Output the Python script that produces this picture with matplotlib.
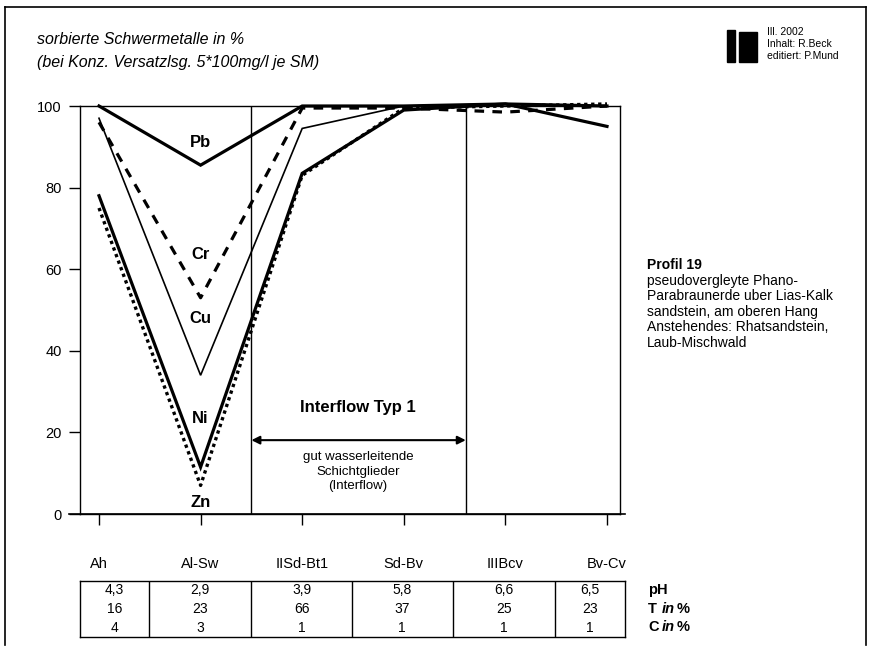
import numpy as np
import matplotlib
matplotlib.use('Agg')
import matplotlib.pyplot as plt
from matplotlib.patches import Rectangle

plt.rcParams['font.family'] = ['Liberation Sans', 'DejaVu Sans']

# horizons and sorbed heavy metals (%)
horizons = ['Ah', 'Al-Sw', 'IISd-Bt1', 'Sd-Bv', 'IIIBcv', 'Bv-Cv']
pb = [100, 85.5, 100, 100, 100.5, 95]
cr = [96, 53, 99.5, 99.5, 98.5, 100]
cu = [97, 34, 94.5, 100, 100.5, 100]
ni = [78, 11.5, 83.5, 99, 100.5, 100]
zn = [75, 7, 83, 99.5, 100, 100.5]

# table below the chart
ph = ['4,3', '2,9', '3,9', '5,8', '6,6', '6,5']
t_pct = ['16', '23', '66', '37', '25', '23']
c_pct = ['4', '3', '1', '1', '1', '1']

W, H = 870, 658


def fx(x):
    return x / W


def fy(y):
    return 1 - y / H


fig = plt.figure(figsize=(W / 100, H / 100), dpi=100)

# main chart, pixel box 80..620 x 106..514
ax = fig.add_axes([fx(80), fy(514), (620 - 80) / W, (514 - 106) / H])
xs = np.arange(len(horizons))
ax.set_xlim(-0.187, 5.128)
ax.set_ylim(0, 100)

ax.plot(xs, pb, color='black', lw=2.3, clip_on=False, solid_joinstyle='miter')
ax.plot(xs, cr, color='black', lw=2.3, ls=(0, (3, 2.6)), clip_on=False)
ax.plot(xs, cu, color='black', lw=1.2, clip_on=False, solid_joinstyle='miter')
ax.plot(xs, ni, color='black', lw=2.3, clip_on=False, solid_joinstyle='miter')
ax.plot(xs, zn, color='black', lw=2.4, ls=(0, (1, 1.1)), clip_on=False)

for name, yv in [('Pb', 91), ('Cr', 63.7), ('Cu', 47.8), ('Ni', 23.5), ('Zn', 2.9)]:
    ax.text(1, yv, name, ha='center', va='center', fontsize=12, fontweight='bold')

# boundaries of the interflow zone
ax.axvline(1.5, color='black', lw=1.0)
ax.axvline(3.61, color='black', lw=1.0)
ax.annotate('', xy=(1.5, 18.1), xytext=(3.61, 18.1),
            arrowprops=dict(arrowstyle='<|-|>', color='black', lw=1.5,
                            mutation_scale=12, shrinkA=0, shrinkB=0))
ax.text(2.55, 26, 'Interflow Typ 1', ha='center', va='center',
        fontsize=12, fontweight='bold')
ax.text(2.55, 10.4, 'gut wasserleitende\nSchichtglieder\n(Interflow)',
        ha='center', va='center', fontsize=9.5, linespacing=1.3)

ax.plot([-0.3, 5.177], [0, 0], color='black', lw=1.2, clip_on=False)
for s in ax.spines.values():
    s.set_linewidth(1.0)
ax.set_yticks([0, 20, 40, 60, 80, 100])
ax.set_xticks(xs)
ax.set_xticklabels(horizons)
ax.tick_params(axis='y', direction='out', length=8, width=1.0, labelsize=10.5, pad=5)
ax.tick_params(axis='x', direction='out', length=8, width=1.0, labelsize=10.5, pad=23)

# table of soil properties
tax = fig.add_axes([fx(80), fy(637), (625 - 80) / W, (637 - 581) / H])
tax.set_xlim(-0.187, 5.177)
tax.set_ylim(0, 3)
edges = [-0.187, 0.49, 1.5, 2.49, 3.48, 4.49, 5.177]
for e in edges[1:-1]:
    tax.axvline(e, color='black', lw=1.0)
for i in range(len(horizons)):
    cx = (edges[i] + edges[i + 1]) / 2
    for row, vals in zip([2.5, 1.5, 0.5], [ph, t_pct, c_pct]):
        tax.text(cx, row, vals[i], ha='center', va='center', fontsize=10)
tax.set_xticks([])
tax.set_yticks([])
for s in tax.spines.values():
    s.set_linewidth(1.0)

fig.text(fx(648), fy(590), 'pH', ha='left', va='center', fontsize=10.5, fontweight='bold')
for ypix, lab in [(609, 'T'), (627, 'C')]:
    fig.text(fx(648), fy(ypix), lab, ha='left', va='center', fontsize=10.5, fontweight='bold')
    fig.text(fx(662), fy(ypix), 'in', ha='left', va='center', fontsize=10.5,
             fontweight='bold', fontstyle='italic')
    fig.text(fx(677), fy(ypix), '%', ha='left', va='center', fontsize=10.5, fontweight='bold')

# title
fig.text(fx(37), fy(40), 'sorbierte Schwermetalle in %', ha='left', va='center',
         fontsize=11.5, fontstyle='italic')
fig.text(fx(37), fy(63), '(bei Konz. Versatzlsg. 5*100mg/l je SM)', ha='left', va='center',
         fontsize=11.5, fontstyle='italic')

# profile description
fig.text(fx(647), fy(265), 'Profil 19', ha='left', va='center', fontsize=10, fontweight='bold')
desc = ['pseudovergleyte Phano-', 'Parabraunerde uber Lias-Kalk', 'sandstein, am oberen Hang',
        'Anstehendes: Rhatsandstein,', 'Laub-Mischwald']
for k, line in enumerate(desc):
    fig.text(fx(647), fy(281 + 15.5 * k), line, ha='left', va='center', fontsize=10)

# logo and credits
fig.patches.append(Rectangle((fx(727), fy(62)), 8 / W, 32 / H, transform=fig.transFigure,
                             color='black'))
fig.patches.append(Rectangle((fx(739), fy(62)), 18 / W, 30 / H, transform=fig.transFigure,
                             color='black'))
fig.text(fx(767), fy(32), 'Ill. 2002', ha='left', va='center', fontsize=7.5)
fig.text(fx(767), fy(44), 'Inhalt: R.Beck', ha='left', va='center', fontsize=7.5)
fig.text(fx(767), fy(56), 'editiert: P.Mund', ha='left', va='center', fontsize=7.5)

# frame round the sheet
frame = dict(color='black', lw=1.2, transform=fig.transFigure)
fig.add_artist(plt.Line2D([fx(5), fx(866)], [fy(7), fy(7)], **frame))
fig.add_artist(plt.Line2D([fx(5), fx(5)], [fy(7), fy(645)], **frame))
fig.add_artist(plt.Line2D([fx(866), fx(866)], [fy(7), fy(645)], **frame))

fig.savefig('out.png', dpi=100)
